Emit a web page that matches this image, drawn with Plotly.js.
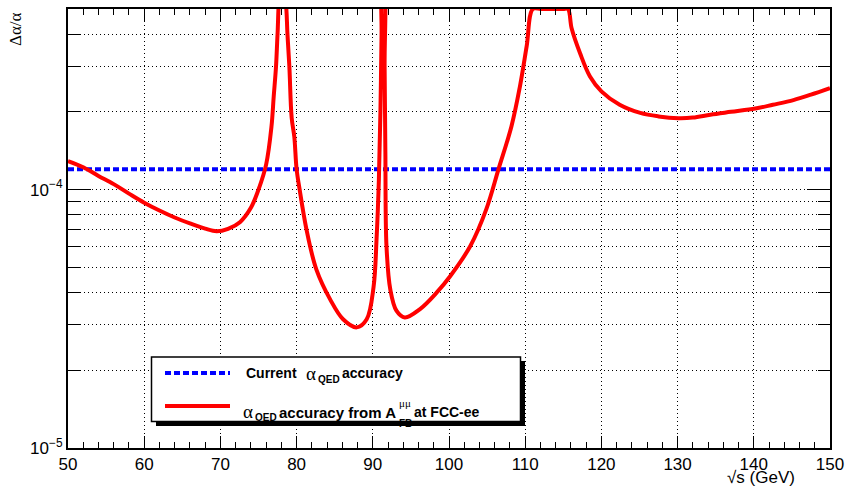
<!DOCTYPE html>
<html>
<head>
<meta charset="utf-8">
<script src="https://cdn.plot.ly/plotly-3.0.1.min.js"></script>
<style>html,body{margin:0;padding:0;background:#fff;}#chart{width:847px;height:488px;}</style>
</head>
<body>
<div id="chart"></div>
<script>
// ---- data ----
const sqrtS = [50, 52, 54, 56, 58, 60, 62, 64, 66, 68,
  69.5, 71, 72.6, 74, 75, 76, 76.7, 77.0, 77.3, 77.5,
  77.8, 78.1, 78.4, 78.6, 78.8, 79.05, 79.35, 79.7, 80.0, 80.4,
  81.3, 82.6, 84.4, 86.1, 87.9, 89.2, 90.1, 90.5, 90.8, 91.0,
  91.15, 91.25, 91.45, 91.55, 91.65, 91.8, 92.3, 93.1, 94.2, 96.2,
  98.4, 100.1, 102.8, 104.9, 106.5, 108.2, 109.3, 110.2, 111.0, 112,
  113, 114, 115, 115.6, 116.1, 117.2, 118.5, 120, 122.4, 125.1,
  127.5, 130.1, 132, 134.3, 137, 140.2, 142.5, 145.2, 147.5, 150];
const afbAccuracy = [1.29e-4, 1.22e-4, 1.13e-4, 1.05e-4, 9.65e-5, 8.9e-5, 8.3e-5, 7.8e-5, 7.4e-5, 7.06e-5,
  6.9e-5, 7.05e-5, 7.5e-5, 8.5e-5, 1.0e-4, 1.25e-4, 1.75e-4, 2.3e-4, 3.0e-4, 4.0e-4,
  5.6e-4, 5.3e-4, 5.5e-4, 5.2e-4, 4.0e-4, 3.0e-4, 1.9e-4, 1.6e-4, 1.2e-4, 1.0e-4,
  7.0e-5, 4.9e-5, 3.76e-5, 3.15e-5, 2.93e-5, 3.15e-5, 4.2e-5, 6.5e-5, 1.1e-4, 2.0e-4,
  4.0e-4, 6.0e-4, 6.0e-4, 3.0e-4, 1.4e-4, 6.0e-5, 4.1e-5, 3.4e-5, 3.2e-5, 3.45e-5,
  4.0e-5, 4.6e-5, 6.05e-5, 8.4e-5, 1.2e-4, 1.76e-4, 2.5e-4, 3.6e-4, 5.0e-4, 5.0e-4,
  5.0e-4, 5.0e-4, 5.0e-4, 5.0e-4, 4.2e-4, 3.37e-4, 2.74e-4, 2.4e-4, 2.13e-4, 1.98e-4,
  1.92e-4, 1.89e-4, 1.9e-4, 1.95e-4, 2.0e-4, 2.06e-4, 2.13e-4, 2.22e-4, 2.33e-4, 2.47e-4];
const currentX = [50, 150];
const currentAccuracy = [1.2e-4, 1.2e-4];

const yMajorVals = [1e-5, 1e-4];
const yMajorText = ['10<sup>\u22125</sup>', '10<sup>\u22124</sup>'];
const yMinorVals = [2e-5, 3e-5, 4e-5, 5e-5, 6e-5, 7e-5, 8e-5, 9e-5, 2e-4, 3e-4, 4e-4];
const yRange = [1e-5, 5e-4];
const xRange = [50, 150];

// ---- layout helpers (pixel -> paper) ----
const L = 68, R = 17, T = 9, B = 40, W = 847, H = 488;
const pw = W - L - R, ph = H - T - B;
const px = v => (v - L) / pw;
const py = v => (H - B - v) / ph;

const FONT = 'Liberation Sans, Arial, Helvetica, sans-serif';
const SERIF = 'Liberation Serif, Times New Roman, serif';

const traces = [
  {x: currentX, y: currentAccuracy, type: 'scatter', mode: 'lines',
   line: {color: '#0000ff', width: 4, dash: '6px,3px'}, showlegend: false, hoverinfo: 'skip'},
  {x: sqrtS, y: afbAccuracy, type: 'scatter', mode: 'lines',
   line: {color: '#ff0000', width: 4, shape: 'spline', smoothing: 1}, showlegend: false, hoverinfo: 'skip'}
];

function txt(text, x, y, xanchor, size, family) {
  return {xref: 'paper', yref: 'paper', x: px(x), y: py(y), xanchor: xanchor, yanchor: 'middle',
          showarrow: false, text: text, font: {size: size, family: family || FONT, color: '#000'}};
}

const gridDash = '1px,3px';
const layout = {
  width: W, height: H,
  margin: {l: L, r: R, t: T, b: B, pad: 0},
  paper_bgcolor: '#fff', plot_bgcolor: '#fff',
  font: {family: FONT, color: '#000', size: 17},
  showlegend: false,
  xaxis: {
    range: xRange, tick0: 50, dtick: 10, ticks: 'inside', ticklen: 12, tickwidth: 1, tickcolor: '#000',
    showline: true, linewidth: 2, linecolor: '#000', mirror: 'allticks',
    showgrid: true, gridcolor: '#000', gridwidth: 1, griddash: gridDash,
    zeroline: false, tickfont: {size: 17, family: FONT},
    minor: {dtick: 2, ticks: 'inside', ticklen: 6, tickwidth: 1, tickcolor: '#000', showgrid: false}
  },
  yaxis: {
    type: 'log', range: [Math.log10(yRange[0]), Math.log10(yRange[1])],
    tickmode: 'array', tickvals: yMajorVals, ticktext: yMajorText,
    ticks: 'inside', ticklen: 23, tickwidth: 1, tickcolor: '#000',
    showline: true, linewidth: 2, linecolor: '#000', mirror: 'allticks',
    showgrid: true, gridcolor: '#000', gridwidth: 1, griddash: gridDash,
    zeroline: false, tickfont: {size: 17, family: FONT},
    minor: {tickmode: 'array', tickvals: yMinorVals, ticks: 'inside', ticklen: 12, tickwidth: 1, tickcolor: '#000',
            showgrid: true, gridcolor: '#000', gridwidth: 1, griddash: gridDash}
  },
  shapes: [
    {type: 'rect', xref: 'paper', yref: 'paper', x0: px(156), x1: px(525), y0: py(426), y1: py(361),
     fillcolor: '#000', line: {width: 0}, layer: 'above'},
    {type: 'rect', xref: 'paper', yref: 'paper', x0: px(151.5), x1: px(520.5), y0: py(421.5), y1: py(357),
     fillcolor: '#fff', line: {color: '#000', width: 1.5}, layer: 'above'},
    {type: 'line', xref: 'paper', yref: 'paper', x0: px(165), x1: px(230), y0: py(373), y1: py(373),
     line: {color: '#0000ff', width: 4, dash: '6px,3px'}, layer: 'above'},
    {type: 'line', xref: 'paper', yref: 'paper', x0: px(165), x1: px(230), y0: py(406), y1: py(406),
     line: {color: '#ff0000', width: 4}, layer: 'above'}
  ],
  annotations: [
    // legend line 1
    txt('<b>Current</b>', 244, 373, 'left', 14),
    txt('\u03b1', 304, 373, 'left', 19, SERIF),
    txt('<b>QED</b>', 316, 380, 'left', 10),
    txt('<b>accuracy</b>', 340, 373, 'left', 14),
    // legend line 2
    txt('\u03b1', 241, 411.5, 'left', 19, SERIF),
    txt('<b>QED</b>', 253, 417, 'left', 10),
    txt('<b>accuracy from A</b>', 398, 412, 'right', 15),
    txt('<b>FB</b>', 397, 423, 'left', 10),
    txt('\u03bc\u03bc', 397, 403, 'left', 11, SERIF),
    txt('<b>at FCC-ee</b>', 412, 412, 'left', 14),
    // axis titles
    txt('\u221as (GeV)', 797, 477, 'right', 17),
    Object.assign(txt('\u0394\u03b1/\u03b1', 16, 29, 'center', 17, SERIF), {textangle: -90})
  ]
};

Plotly.newPlot('chart', traces, layout, {displayModeBar: false, staticPlot: true});
</script>
</body>
</html>
